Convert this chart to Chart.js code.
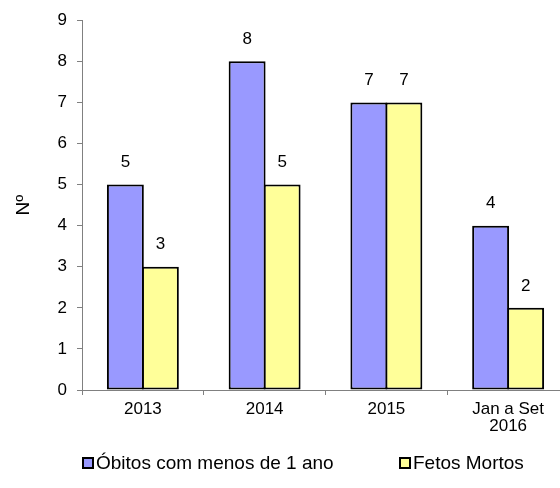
<!DOCTYPE html>
<html>
<head>
<meta charset="utf-8">
<script src="https://cdn.jsdelivr.net/npm/chart.js@4"></script>
<style>
  html, body { margin: 0; padding: 0; overflow: hidden; background: #fff; }
  #caixa { width: 590px; height: 488px; }
</style>
</head>
<body>
<div id="caixa"><canvas id="graficoObitos" width="590" height="488"></canvas></div>
<script>
// Dados do gráfico
const categorias = ['2013', '2014', '2015', ['Jan a Set', '2016']];
const obitosMenos1Ano = [5, 8, 7, 4];
const fetosMortos = [3, 5, 7, 2];
const nomesSeries = ['Óbitos com menos de 1 ano', 'Fetos Mortos'];
const eixoYMax = 9;

const FONTE = "'Liberation Sans', Arial, sans-serif";

// Rótulos de valor por cima das barras
const rotulosValores = {
  id: 'rotulosValores',
  afterDatasetsDraw(chart) {
    const ctx = chart.ctx;
    ctx.save();
    ctx.font = '17px ' + FONTE;
    ctx.fillStyle = '#000';
    ctx.textAlign = 'center';
    ctx.textBaseline = 'middle';
    chart.data.datasets.forEach((ds, i) => {
      chart.getDatasetMeta(i).data.forEach((barra, j) => {
        ctx.fillText(String(ds.data[j]), barra.x, barra.y - 22);
      });
    });
    ctx.restore();
  }
};

// Legenda desenhada à mão (posições do original)
const legendaManual = {
  id: 'legendaManual',
  afterDraw(chart) {
    const ctx = chart.ctx;
    const posicoes = [83, 400];
    const yCentro = 463;
    ctx.save();
    ctx.font = '19px ' + FONTE;
    ctx.textBaseline = 'middle';
    ctx.textAlign = 'left';
    chart.data.datasets.forEach((ds, i) => {
      const x = posicoes[i];
      ctx.fillStyle = ds.backgroundColor;
      ctx.fillRect(x, yCentro - 5, 10, 10);
      ctx.lineWidth = 2;
      ctx.strokeStyle = '#000';
      ctx.strokeRect(x, yCentro - 5, 10, 10);
      ctx.fillStyle = '#000';
      ctx.fillText(ds.label, x + 13, yCentro + 1);
    });
    ctx.restore();
  }
};

const ctx = document.getElementById('graficoObitos').getContext('2d');

new Chart(ctx, {
  type: 'bar',
  data: {
    labels: categorias,
    datasets: [
      {
        label: nomesSeries[0],
        data: obitosMenos1Ano,
        backgroundColor: '#9999FF',
        borderColor: '#000',
        borderWidth: 2,
        borderSkipped: false
      },
      {
        label: nomesSeries[1],
        data: fetosMortos,
        backgroundColor: '#FFFF99',
        borderColor: '#000',
        borderWidth: 2,
        borderSkipped: false
      }
    ]
  },
  options: {
    responsive: false,
    animation: false,
    categoryPercentage: 0.575,
    barPercentage: 1.055,
    layout: { padding: { top: 19, right: 21, bottom: 0, left: 0 } },
    plugins: {
      legend: { display: false },
      tooltip: { enabled: false }
    },
    scales: {
      x: {
        grid: {
          offset: true,
          drawOnChartArea: false,
          tickLength: 5,
          color: '#808080'
        },
        border: { color: '#808080', width: 1 },
        ticks: {
          color: '#000',
          padding: 6,
          maxRotation: 0,
          font: { family: FONTE, size: 17, lineHeight: 1.0 }
        },
        afterFit(escala) { escala.height = 98; }
      },
      y: {
        min: 0,
        max: eixoYMax,
        grid: {
          drawOnChartArea: false,
          tickLength: 5,
          color: '#808080'
        },
        border: { color: '#808080', width: 1 },
        ticks: {
          stepSize: 1,
          color: '#000',
          padding: 10,
          font: { family: FONTE, size: 17 }
        },
        title: {
          display: true,
          text: 'Nº',
          color: '#000',
          padding: { top: 12, bottom: 0 },
          font: { family: FONTE, size: 19 }
        },
        afterFit(escala) { escala.width = 82; }
      }
    }
  },
  plugins: [rotulosValores, legendaManual]
});
</script>
</body>
</html>
